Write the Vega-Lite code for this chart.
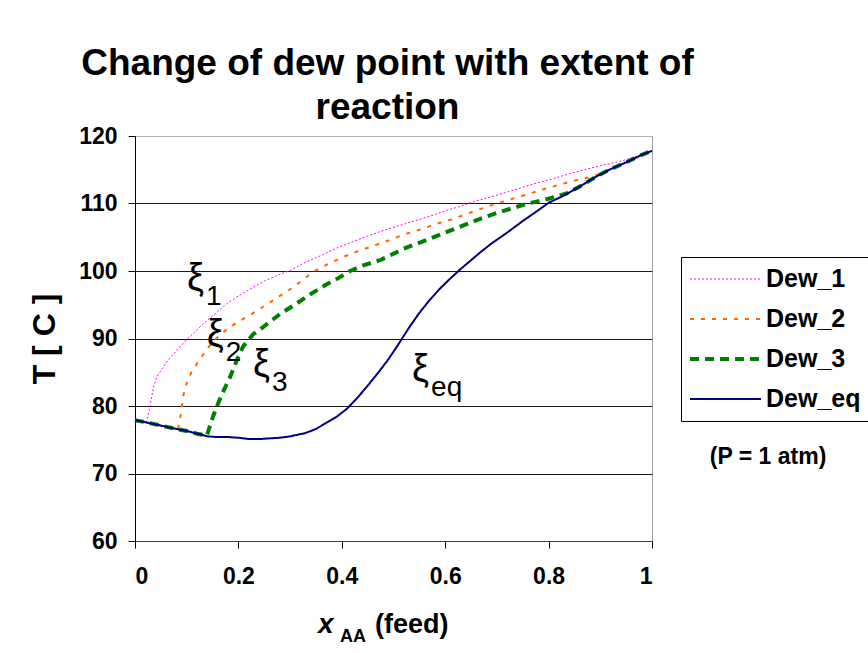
{
  "$schema": "https://vega.github.io/schema/vega-lite/v6.json",
  "width": 517,
  "height": 405,
  "autosize": {"type": "none"},
  "padding": {"left": 135, "top": 136, "right": 216, "bottom": 112},
  "background": "white",
  "title": {
    "text": ["Change of dew point with extent of", "reaction"],
    "font": "Liberation Sans",
    "fontSize": 37,
    "fontWeight": "bold",
    "color": "black",
    "lineHeight": 44,
    "anchor": "middle",
    "frame": "group",
    "baseline": "bottom",
    "offset": -39,
    "dx": -6
  },
  "datasets": {
    "curves": [
      {"series": "Dew_1", "x": 0.0, "T": 77.9},
      {"series": "Dew_1", "x": 0.01, "T": 77.75},
      {"series": "Dew_1", "x": 0.022, "T": 77.5},
      {"series": "Dew_1", "x": 0.026, "T": 78.8},
      {"series": "Dew_1", "x": 0.03, "T": 80.5},
      {"series": "Dew_1", "x": 0.036, "T": 82.8},
      {"series": "Dew_1", "x": 0.042, "T": 84.3},
      {"series": "Dew_1", "x": 0.06, "T": 86.4},
      {"series": "Dew_1", "x": 0.08, "T": 88.2},
      {"series": "Dew_1", "x": 0.1, "T": 89.8},
      {"series": "Dew_1", "x": 0.12, "T": 91.3},
      {"series": "Dew_1", "x": 0.14, "T": 92.7},
      {"series": "Dew_1", "x": 0.16, "T": 94.0},
      {"series": "Dew_1", "x": 0.18, "T": 95.3},
      {"series": "Dew_1", "x": 0.2, "T": 96.3},
      {"series": "Dew_1", "x": 0.22, "T": 97.2},
      {"series": "Dew_1", "x": 0.25, "T": 98.5},
      {"series": "Dew_1", "x": 0.28, "T": 99.5},
      {"series": "Dew_1", "x": 0.3, "T": 100.1},
      {"series": "Dew_1", "x": 0.33, "T": 101.3},
      {"series": "Dew_1", "x": 0.36, "T": 102.3},
      {"series": "Dew_1", "x": 0.39, "T": 103.4},
      {"series": "Dew_1", "x": 0.42, "T": 104.3},
      {"series": "Dew_1", "x": 0.45, "T": 105.2},
      {"series": "Dew_1", "x": 0.48, "T": 106.0},
      {"series": "Dew_1", "x": 0.51, "T": 106.7},
      {"series": "Dew_1", "x": 0.54, "T": 107.4},
      {"series": "Dew_1", "x": 0.57, "T": 108.1},
      {"series": "Dew_1", "x": 0.6, "T": 108.9},
      {"series": "Dew_1", "x": 0.63, "T": 109.6},
      {"series": "Dew_1", "x": 0.66, "T": 110.4},
      {"series": "Dew_1", "x": 0.69, "T": 111.0},
      {"series": "Dew_1", "x": 0.72, "T": 111.7},
      {"series": "Dew_1", "x": 0.75, "T": 112.4},
      {"series": "Dew_1", "x": 0.78, "T": 113.1},
      {"series": "Dew_1", "x": 0.81, "T": 113.7},
      {"series": "Dew_1", "x": 0.84, "T": 114.4},
      {"series": "Dew_1", "x": 0.87, "T": 115.0},
      {"series": "Dew_1", "x": 0.9, "T": 115.6},
      {"series": "Dew_1", "x": 0.93, "T": 116.1},
      {"series": "Dew_1", "x": 0.96, "T": 116.7},
      {"series": "Dew_1", "x": 1.0, "T": 117.8},

      {"series": "Dew_2", "x": 0.0, "T": 77.9},
      {"series": "Dew_2", "x": 0.02, "T": 77.6},
      {"series": "Dew_2", "x": 0.05, "T": 77.1},
      {"series": "Dew_2", "x": 0.083, "T": 76.6},
      {"series": "Dew_2", "x": 0.088, "T": 78.5},
      {"series": "Dew_2", "x": 0.093, "T": 81.4},
      {"series": "Dew_2", "x": 0.1, "T": 83.4},
      {"series": "Dew_2", "x": 0.11, "T": 85.2},
      {"series": "Dew_2", "x": 0.129, "T": 87.3},
      {"series": "Dew_2", "x": 0.145, "T": 89.0},
      {"series": "Dew_2", "x": 0.161, "T": 90.3},
      {"series": "Dew_2", "x": 0.18, "T": 91.5},
      {"series": "Dew_2", "x": 0.2, "T": 92.5},
      {"series": "Dew_2", "x": 0.225, "T": 93.6},
      {"series": "Dew_2", "x": 0.248, "T": 94.7},
      {"series": "Dew_2", "x": 0.27, "T": 95.8},
      {"series": "Dew_2", "x": 0.3, "T": 97.3},
      {"series": "Dew_2", "x": 0.325, "T": 98.7},
      {"series": "Dew_2", "x": 0.345, "T": 99.9},
      {"series": "Dew_2", "x": 0.37, "T": 100.9},
      {"series": "Dew_2", "x": 0.4, "T": 102.0},
      {"series": "Dew_2", "x": 0.43, "T": 102.9},
      {"series": "Dew_2", "x": 0.46, "T": 103.7},
      {"series": "Dew_2", "x": 0.493, "T": 104.6},
      {"series": "Dew_2", "x": 0.52, "T": 105.4},
      {"series": "Dew_2", "x": 0.55, "T": 106.1},
      {"series": "Dew_2", "x": 0.58, "T": 106.9},
      {"series": "Dew_2", "x": 0.61, "T": 107.6},
      {"series": "Dew_2", "x": 0.64, "T": 108.4},
      {"series": "Dew_2", "x": 0.661, "T": 109.0},
      {"series": "Dew_2", "x": 0.7, "T": 110.0},
      {"series": "Dew_2", "x": 0.73, "T": 110.7},
      {"series": "Dew_2", "x": 0.76, "T": 111.4},
      {"series": "Dew_2", "x": 0.79, "T": 112.1},
      {"series": "Dew_2", "x": 0.822, "T": 112.8},
      {"series": "Dew_2", "x": 0.85, "T": 113.4},
      {"series": "Dew_2", "x": 0.886, "T": 114.0},
      {"series": "Dew_2", "x": 0.92, "T": 115.1},
      {"series": "Dew_2", "x": 0.95, "T": 116.1},
      {"series": "Dew_2", "x": 0.98, "T": 117.2},
      {"series": "Dew_2", "x": 1.0, "T": 117.8},

      {"series": "Dew_3", "x": 0.0, "T": 77.9},
      {"series": "Dew_3", "x": 0.02, "T": 77.6},
      {"series": "Dew_3", "x": 0.05, "T": 77.1},
      {"series": "Dew_3", "x": 0.08, "T": 76.6},
      {"series": "Dew_3", "x": 0.1, "T": 76.3},
      {"series": "Dew_3", "x": 0.12, "T": 75.9},
      {"series": "Dew_3", "x": 0.139, "T": 75.6},
      {"series": "Dew_3", "x": 0.148, "T": 77.8},
      {"series": "Dew_3", "x": 0.158, "T": 79.9},
      {"series": "Dew_3", "x": 0.171, "T": 82.2},
      {"series": "Dew_3", "x": 0.184, "T": 84.3},
      {"series": "Dew_3", "x": 0.196, "T": 86.6},
      {"series": "Dew_3", "x": 0.209, "T": 88.8},
      {"series": "Dew_3", "x": 0.228, "T": 90.6},
      {"series": "Dew_3", "x": 0.248, "T": 91.7},
      {"series": "Dew_3", "x": 0.28, "T": 93.6},
      {"series": "Dew_3", "x": 0.313, "T": 95.2},
      {"series": "Dew_3", "x": 0.34, "T": 96.6},
      {"series": "Dew_3", "x": 0.37, "T": 98.0},
      {"series": "Dew_3", "x": 0.39, "T": 98.8},
      {"series": "Dew_3", "x": 0.416, "T": 100.0},
      {"series": "Dew_3", "x": 0.44, "T": 100.8},
      {"series": "Dew_3", "x": 0.474, "T": 101.6},
      {"series": "Dew_3", "x": 0.493, "T": 102.3},
      {"series": "Dew_3", "x": 0.52, "T": 103.3},
      {"series": "Dew_3", "x": 0.564, "T": 104.6},
      {"series": "Dew_3", "x": 0.6, "T": 105.7},
      {"series": "Dew_3", "x": 0.64, "T": 106.9},
      {"series": "Dew_3", "x": 0.67, "T": 107.8},
      {"series": "Dew_3", "x": 0.7, "T": 108.6},
      {"series": "Dew_3", "x": 0.73, "T": 109.3},
      {"series": "Dew_3", "x": 0.76, "T": 110.0},
      {"series": "Dew_3", "x": 0.8, "T": 110.7},
      {"series": "Dew_3", "x": 0.835, "T": 111.5},
      {"series": "Dew_3", "x": 0.86, "T": 112.5},
      {"series": "Dew_3", "x": 0.89, "T": 113.9},
      {"series": "Dew_3", "x": 0.92, "T": 115.1},
      {"series": "Dew_3", "x": 0.95, "T": 116.1},
      {"series": "Dew_3", "x": 0.98, "T": 117.2},
      {"series": "Dew_3", "x": 1.0, "T": 117.8},

      {"series": "Dew_eq", "x": 0.0, "T": 77.9},
      {"series": "Dew_eq", "x": 0.02, "T": 77.6},
      {"series": "Dew_eq", "x": 0.05, "T": 77.1},
      {"series": "Dew_eq", "x": 0.08, "T": 76.6},
      {"series": "Dew_eq", "x": 0.1, "T": 76.3},
      {"series": "Dew_eq", "x": 0.12, "T": 75.9},
      {"series": "Dew_eq", "x": 0.14, "T": 75.5},
      {"series": "Dew_eq", "x": 0.16, "T": 75.4},
      {"series": "Dew_eq", "x": 0.18, "T": 75.4},
      {"series": "Dew_eq", "x": 0.2, "T": 75.3},
      {"series": "Dew_eq", "x": 0.22, "T": 75.1},
      {"series": "Dew_eq", "x": 0.24, "T": 75.1},
      {"series": "Dew_eq", "x": 0.26, "T": 75.2},
      {"series": "Dew_eq", "x": 0.28, "T": 75.3},
      {"series": "Dew_eq", "x": 0.3, "T": 75.5},
      {"series": "Dew_eq", "x": 0.33, "T": 76.0},
      {"series": "Dew_eq", "x": 0.35, "T": 76.6},
      {"series": "Dew_eq", "x": 0.37, "T": 77.5},
      {"series": "Dew_eq", "x": 0.39, "T": 78.4},
      {"series": "Dew_eq", "x": 0.41, "T": 79.6},
      {"series": "Dew_eq", "x": 0.43, "T": 81.2},
      {"series": "Dew_eq", "x": 0.45, "T": 83.0},
      {"series": "Dew_eq", "x": 0.47, "T": 84.9},
      {"series": "Dew_eq", "x": 0.49, "T": 86.9},
      {"series": "Dew_eq", "x": 0.51, "T": 89.2},
      {"series": "Dew_eq", "x": 0.53, "T": 91.6},
      {"series": "Dew_eq", "x": 0.55, "T": 93.8},
      {"series": "Dew_eq", "x": 0.57, "T": 95.7},
      {"series": "Dew_eq", "x": 0.59, "T": 97.4},
      {"series": "Dew_eq", "x": 0.61, "T": 98.9},
      {"series": "Dew_eq", "x": 0.63, "T": 100.3},
      {"series": "Dew_eq", "x": 0.65, "T": 101.6},
      {"series": "Dew_eq", "x": 0.67, "T": 102.9},
      {"series": "Dew_eq", "x": 0.69, "T": 104.1},
      {"series": "Dew_eq", "x": 0.72, "T": 105.7},
      {"series": "Dew_eq", "x": 0.75, "T": 107.4},
      {"series": "Dew_eq", "x": 0.78, "T": 109.0},
      {"series": "Dew_eq", "x": 0.8, "T": 110.1},
      {"series": "Dew_eq", "x": 0.83, "T": 111.2},
      {"series": "Dew_eq", "x": 0.86, "T": 112.5},
      {"series": "Dew_eq", "x": 0.89, "T": 113.9},
      {"series": "Dew_eq", "x": 0.92, "T": 115.1},
      {"series": "Dew_eq", "x": 0.95, "T": 116.1},
      {"series": "Dew_eq", "x": 0.98, "T": 117.2},
      {"series": "Dew_eq", "x": 1.0, "T": 117.8}
    ],
    "notes": [
      {"x": 0.1006, "T": 97.2, "sub": "1"},
      {"x": 0.139, "T": 88.9, "sub": "2"},
      {"x": 0.228, "T": 84.4, "sub": "3"},
      {"x": 0.536, "T": 83.7, "sub": "eq"}
    ]
  },
  "layer": [
    {
      "data": {"name": "curves"},
      "mark": {"type": "line", "strokeCap": "butt", "strokeJoin": "round"},
      "encoding": {
        "x": {
          "field": "x", "type": "quantitative",
          "scale": {"domain": [0, 1], "nice": false, "zero": false},
          "axis": {
            "title": null,
            "values": [0, 0.2, 0.4, 0.6, 0.8, 1],
            "format": "~g",
            "grid": false,
            "domainColor": "#404040",
            "labelPadding": 17,
            "tickSize": 7
          }
        },
        "y": {
          "field": "T", "type": "quantitative",
          "scale": {"domain": [60, 120], "nice": false, "zero": false},
          "axis": {
            "title": "T [ C ]",
            "values": [60, 70, 80, 90, 100, 110, 120],
            "grid": true,
            "gridColor": {"condition": {"test": "datum.value == 120", "value": "#b0b0b0"}, "value": "#1a1a1a"},
            "domainColor": "#000000",
            "labelPadding": 11,
            "tickSize": 7,
            "titleFontSize": 32,
            "titlePadding": 17
          }
        },
        "color": {
          "field": "series", "type": "nominal",
          "scale": {"domain": ["Dew_1", "Dew_2", "Dew_3", "Dew_eq"], "range": ["#ff00ff", "#ff6600", "#008000", "#000080"]},
          "legend": {"title": null}
        },
        "strokeDash": {
          "field": "series", "type": "nominal",
          "scale": {"domain": ["Dew_1", "Dew_2", "Dew_3", "Dew_eq"], "range": [[2, 2], [4, 7], [9, 6], [1, 0]]},
          "legend": {"title": null}
        },
        "strokeWidth": {
          "field": "series", "type": "nominal",
          "scale": {"type": "ordinal", "domain": ["Dew_1", "Dew_2", "Dew_3", "Dew_eq"], "range": [1, 2, 4, 2]},
          "legend": {"title": null}
        }
      }
    },
    {
      "data": {"name": "notes"},
      "mark": {"type": "text", "text": "ξ", "font": "Liberation Sans", "fontSize": 38, "align": "left", "baseline": "alphabetic", "color": "black"},
      "encoding": {
        "x": {"field": "x", "type": "quantitative"},
        "y": {"field": "T", "type": "quantitative"}
      }
    },
    {
      "data": {"name": "notes"},
      "mark": {"type": "text", "font": "Liberation Sans", "fontSize": 28, "align": "left", "baseline": "alphabetic", "dx": 19, "dy": 15, "color": "black"},
      "encoding": {
        "x": {"field": "x", "type": "quantitative"},
        "y": {"field": "T", "type": "quantitative"},
        "text": {"field": "sub"}
      }
    },
    {
      "data": {"values": [{}]},
      "mark": {"type": "text", "text": "x", "font": "Liberation Sans", "fontSize": 28, "fontWeight": "bold", "fontStyle": "italic", "align": "left", "baseline": "alphabetic", "clip": false, "color": "black"},
      "encoding": {
        "x": {"datum": 0.354, "type": "quantitative"},
        "y": {"datum": 46.37, "type": "quantitative"}
      }
    },
    {
      "data": {"values": [{}]},
      "mark": {"type": "text", "text": "AA", "font": "Liberation Sans", "fontSize": 18, "fontWeight": "bold", "align": "left", "baseline": "alphabetic", "dx": 22, "dy": 9, "clip": false, "color": "black"},
      "encoding": {
        "x": {"datum": 0.354, "type": "quantitative"},
        "y": {"datum": 46.37, "type": "quantitative"}
      }
    },
    {
      "data": {"values": [{}]},
      "mark": {"type": "text", "text": "(feed)", "font": "Liberation Sans", "fontSize": 27, "fontWeight": "bold", "align": "left", "baseline": "alphabetic", "dx": 57, "clip": false, "color": "black"},
      "encoding": {
        "x": {"datum": 0.354, "type": "quantitative"},
        "y": {"datum": 46.37, "type": "quantitative"}
      }
    },
    {
      "data": {"values": [{}]},
      "mark": {"type": "text", "text": "(P = 1 atm)", "font": "Liberation Sans", "fontSize": 23, "fontWeight": "bold", "align": "center", "baseline": "alphabetic", "clip": false, "color": "black"},
      "encoding": {
        "x": {"datum": 1.2244, "type": "quantitative"},
        "y": {"datum": 71.4, "type": "quantitative"}
      }
    }
  ],
  "config": {
    "font": "Liberation Sans",
    "view": {"stroke": "#a0a0a0", "strokeWidth": 1},
    "axis": {
      "labelFont": "Liberation Sans",
      "labelFontSize": 23,
      "labelFontWeight": "bold",
      "labelColor": "black",
      "titleFont": "Liberation Sans",
      "titleFontWeight": "bold",
      "titleColor": "black",
      "tickColor": "black",
      "gridWidth": 1,
      "domainWidth": 1
    },
    "legend": {
      "orient": "none",
      "legendX": 546,
      "legendY": 121,
      "strokeColor": "black",
      "fillColor": "white",
      "padding": 7,
      "labelFont": "Liberation Sans",
      "labelFontSize": 25,
      "labelFontWeight": "bold",
      "labelColor": "black",
      "labelLimit": 300,
      "labelOffset": 3,
      "symbolType": "stroke",
      "symbolSize": 5041,
      "clipHeight": 30,
      "rowPadding": 10
    }
  }
}
